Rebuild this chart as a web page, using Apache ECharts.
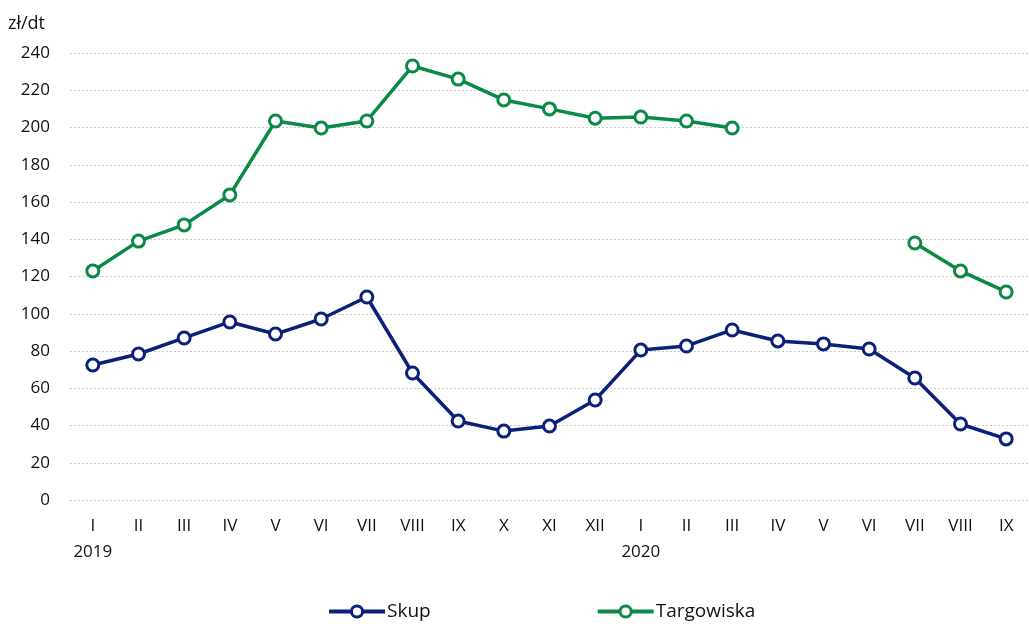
<!DOCTYPE html>
<html><head><meta charset="utf-8">
<script src="https://cdn.jsdelivr.net/npm/echarts@6/dist/echarts.min.js"></script>
<style>html,body{margin:0;padding:0;background:#fff}#c{width:1029px;height:624px}</style>
</head><body><div id="c"></div>
<script>
const months = ['I','II','III','IV','V','VI','VII','VIII','IX','X','XI','XII','I','II','III','IV','V','VI','VII','VIII','IX'];
const years = {0:'2019', 12:'2020'};
const skup = [72.5,78.4,87,95.6,89.1,97.2,109,68.2,42.4,37,39.7,53.7,80.5,82.7,91.3,85.4,83.8,81.1,65.5,40.8,32.8];
const targowiska = [123,139,147.7,163.8,203.5,199.7,203.5,233,226,214.8,210,205,205.6,203.5,199.7,null,null,null,138,123,111.7];
const yTicks = {min:0, max:240, interval:20};
const cats = months.map((m,i)=> years[i] ? m + '\n' + years[i] : m);
const font = 'Open Sans';
const blue = '#0a2179', green = '#0a8a45';
const chart = echarts.init(document.getElementById('c'));
chart.setOption({
  animation:false,
  textStyle:{fontFamily:font},
  grid:{left:70, top:53, width:966, height:447},
  xAxis:{type:'category', data:cats, boundaryGap:true,
    axisLine:{show:false}, axisTick:{show:false},
    axisLabel:{color:'#111', fontSize:17, fontFamily:font, margin:13, lineHeight:26, interval:0}},
  yAxis:{type:'value', min:yTicks.min, max:yTicks.max, interval:yTicks.interval,
    name:'zł/dt', nameLocation:'end', nameGap:20, nameTextStyle:{color:'#111', fontSize:18, fontFamily:font, align:'left', padding:[0,0,0,-62]},
    axisLine:{show:false}, axisTick:{show:false},
    axisLabel:{color:'#111', fontSize:17, fontFamily:font, margin:20},
    splitLine:{lineStyle:{color:'#c8c8c8', type:[2,2], width:1}}},
  legend:{bottom:-2, left:322, itemGap:165, itemWidth:56, itemHeight:14,
    lineStyle:{width:4}, itemStyle:{borderWidth:3},
    textStyle:{color:'#111', fontSize:19, fontFamily:font, padding:[0,0,0,-3]}, data:['Skup','Targowiska']},
  series:[
    {name:'Skup', type:'line', data:skup, symbol:'circle', symbolSize:12,
     lineStyle:{color:blue, width:3.5}, itemStyle:{color:'#fff', borderColor:blue, borderWidth:3}},
    {name:'Targowiska', type:'line', data:targowiska, symbol:'circle', symbolSize:12, connectNulls:false,
     lineStyle:{color:green, width:3.5}, itemStyle:{color:'#fff', borderColor:green, borderWidth:3}}
  ]
});
</script></body></html>
